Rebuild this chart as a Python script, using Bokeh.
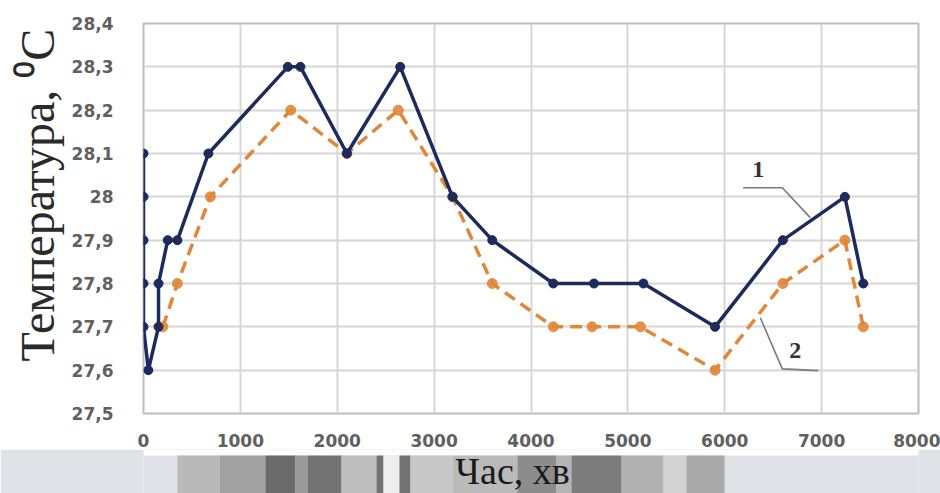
from bokeh.plotting import figure
from bokeh.layouts import column
from bokeh.models import (FixedTicker, CustomJSTickFormatter, ColumnDataSource, Range1d,
                          Title)
from bokeh.core.properties import value
from bokeh.embed import file_html
from bokeh.resources import INLINE

# Time, minutes, and temperature, deg C, for curve 1
time_1 = [0, 0, 0, 0, 0, 50, 155, 155, 250, 350, 670, 1490, 1620, 2100, 2650,
          3190, 3600, 4230, 4650, 5160, 5900, 6600, 7240, 7430]
temp_1 = [28.1, 28.0, 27.9, 27.8, 27.7, 27.6, 27.7, 27.8, 27.9, 27.9, 28.1, 28.3,
          28.3, 28.1, 28.3, 28.0, 27.9, 27.8, 27.8, 27.8, 27.7, 27.9, 28.0, 27.8]

# Time, minutes, and temperature, deg C, for curve 2
time_2 = [200, 350, 690, 1520, 2100, 2630, 3190, 3600, 4230, 4630, 5130, 5900,
          6600, 7240, 7430]
temp_2 = [27.7, 27.8, 28.0, 28.2, 28.1, 28.2, 28.0, 27.8, 27.7, 27.7, 27.7, 27.6,
          27.8, 27.9, 27.7]

x_ticks = [0, 1000, 2000, 3000, 4000, 5000, 6000, 7000, 8000]
y_ticks = [27.5, 27.6, 27.7, 27.8, 27.9, 28.0, 28.1, 28.2, 28.3, 28.4]

# Backdrop strip under the chart: pixel stripes of the page photo
strip_left = [177, 219, 265, 295, 307, 341, 376, 383, 399, 410, 452, 517, 556, 571,
              621, 663, 686]
strip_right = [219, 265, 295, 307, 341, 376, 383, 399, 410, 452, 517, 556, 571, 621,
               663, 686, 724]
strip_color = ["#b9b9b9", "#a2a2a2", "#6b6b6b", "#9a9a9a", "#727272", "#bdbdbd",
               "#727272", "#eeeeee", "#727272", "#c8c8c8", "#bababa", "#8c8c8c",
               "#b4b4b4", "#7c7c7c", "#b0b0b0", "#d2d2d2", "#a9a9a9"]

BLUE = "#1d2a5c"
ORANGE = "#e0873a"
GRID = "#d6d6d6"
TEXTURE = "#dfe3e8"

p = figure(width=940, height=449, output_backend="svg", toolbar_location=None,
           x_range=(0, 8000), y_range=(27.5, 28.4),
           min_border_left=143, min_border_right=22, min_border_top=23,
           min_border_bottom=36)
p.background_fill_color = "white"
p.border_fill_color = "white"
p.outline_line_color = "#bdbdbd"
p.outline_line_width = 2

p.xaxis.ticker = FixedTicker(ticks=x_ticks)
p.yaxis.ticker = FixedTicker(ticks=y_ticks)
p.yaxis.formatter = CustomJSTickFormatter(code="""
    const s = (Math.round(tick * 10) / 10).toFixed(1);
    return s.endsWith('.0') ? s.slice(0, -2) : s.replace('.', ',');
""")

for ax in (p.xaxis, p.yaxis):
    ax.axis_line_color = None
    ax.major_tick_line_color = None
    ax.minor_tick_line_color = None
    ax.major_label_text_font = "DejaVu Sans"
    ax.major_label_text_font_style = "bold"
    ax.major_label_text_font_size = "17px"
    ax.major_label_text_color = "#606060"

p.yaxis.major_label_standoff = 24
p.xaxis.major_label_standoff = 14

# Temperature axis title, set from the bottom of the plot area
p.add_layout(Title(text="Температура, ⁰C", align="left", offset=52, standoff=10,
                   text_font="Liberation Serif", text_font_style="normal",
                   text_font_size="48px", text_color="#2a2a2a"), "left")

p.xgrid.grid_line_color = GRID
p.ygrid.grid_line_color = GRID
p.xgrid.grid_line_width = 2
p.ygrid.grid_line_width = 2

src1 = ColumnDataSource(dict(t=time_1, v=temp_1))
src2 = ColumnDataSource(dict(t=time_2, v=temp_2))

p.line("t", "v", source=src2, line_color=ORANGE, line_width=3.5, line_dash="12 7")
p.scatter("t", "v", source=src2, size=10, fill_color=ORANGE, line_color=ORANGE,
          alpha=0.9)
p.line("t", "v", source=src1, line_color=BLUE, line_width=3.5)
p.scatter("t", "v", source=src1, size=9, fill_color=BLUE, line_color=BLUE)

# Callouts naming the two curves
LEADER = "#7a7a7a"
p.line([6190, 6594, 6883], [28.021, 28.021, 27.952], line_color=LEADER, line_width=1.6)
p.line([6367, 6594, 6966], [27.721, 27.603, 27.599], line_color=LEADER, line_width=1.6)
p.text(x=[6347], y=[28.062], text=["1"], text_font=value("Liberation Serif"),
       text_font_style="bold", text_font_size="24px", text_color="#333333",
       text_align="center", text_baseline="middle")
p.text(x=[6728], y=[27.645], text=["2"], text_font=value("Liberation Serif"),
       text_font_style="bold", text_font_size="24px", text_color="#333333",
       text_align="center", text_baseline="middle")

# Strip below the chart carrying the time-axis title (pixel coordinates)
s = figure(width=940, height=44, output_backend="svg", toolbar_location=None,
           x_range=Range1d(143, 918), y_range=Range1d(44, 0),
           x_axis_type=None, y_axis_type=None,
           min_border_left=143, min_border_right=22, min_border_top=0,
           min_border_bottom=0)
s.background_fill_color = TEXTURE
s.border_fill_color = TEXTURE
s.outline_line_color = None
s.grid.visible = False
s.quad(left=[143], right=[918], top=[0], bottom=[6], fill_color="white",
       line_color=None)
s.quad(left=strip_left, right=strip_right, top=6, bottom=44,
       fill_color=strip_color, line_color=None)
s.text(x=[512], y=[21], text=["Час, хв"], text_font=value("Liberation Serif"),
       text_font_size="38px", text_color="#1a1a1a",
       text_align="center", text_baseline="middle")

layout = column(p, s, spacing=0)
open("out.html", "w").write(file_html(layout, INLINE))
